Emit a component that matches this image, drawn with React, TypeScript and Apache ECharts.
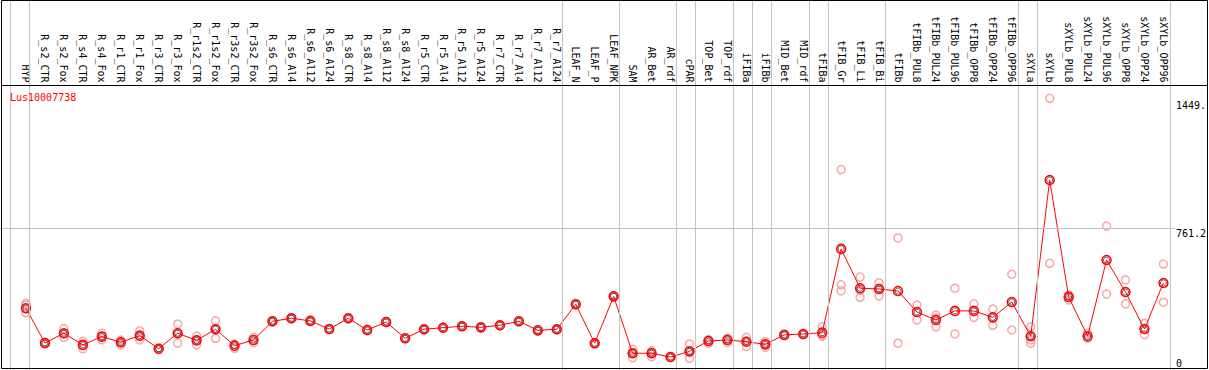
import React, { useEffect, useRef } from 'react';
import * as echarts from 'echarts';

const categories = [
  'HYP', 'R_s2_CTR', 'R_s2_Fox', 'R_s4_CTR', 'R_s4_Fox', 'R_r1_CTR', 'R_r1_Fox', 'R_r3_CTR', 'R_r3_Fox',
  'R_r1s2_CTR', 'R_r1s2_Fox', 'R_r3s2_CTR', 'R_r3s2_Fox', 'R_s6_CTR', 'R_s6_Al4', 'R_s6_Al12', 'R_s6_Al24',
  'R_s8_CTR', 'R_s8_Al4', 'R_s8_Al12', 'R_s8_Al24', 'R_r5_CTR', 'R_r5_Al4', 'R_r5_Al12', 'R_r5_Al24',
  'R_r7_CTR', 'R_r7_Al4', 'R_r7_Al12', 'R_r7_Al24', 'LEAF_N', 'LEAF_P', 'LEAF_NPK', 'SAM', 'AR_Bet', 'AR_rdf',
  'cPAR', 'TOP_Bet', 'TOP_rdf', 'iFIBa', 'iFIBb', 'MID_Bet', 'MID_rdf', 'tFIBa', 'tFIB_Gr', 'tFIB_Li', 'tFIB_Bi',
  'tFIBb', 'tFIBb_PUL8', 'tFIBb_PUL24', 'tFIBb_PUL96', 'tFIBb_OPP8', 'tFIBb_OPP24', 'tFIBb_OPP96', 'sXYLa',
  'sXYLb', 'sXYLb_PUL8', 'sXYLb_PUL24', 'sXYLb_PUL96', 'sXYLb_OPP8', 'sXYLb_OPP24', 'sXYLb_OPP96',
];

const meanValues = [
  338, 154, 206, 144, 188, 158, 193, 124, 206, 168, 227, 140, 170, 269, 285, 271, 228, 285, 223, 265, 179,
  227, 235, 243, 237, 248, 269, 221, 227, 359, 153, 401, 100, 100, 80, 110, 165, 170, 161, 147, 197, 202,
  209, 652, 444, 440, 429, 318, 276, 324, 324, 290, 371, 190, 1017, 398, 190, 593, 424, 228, 472,
];

const replicateValues = [
  [364, 355, 314], [150, 158], [230, 184, 203], [163, 124, 144], [205, 170, 188], [170, 144, 158],
  [219, 170, 190], [120, 128], [255, 154, 207], [191, 144, 170], [271, 179, 230], [147, 126, 146],
  [184, 156], [266, 272], [282, 288], [268, 273], [225, 231], [282, 288], [220, 226], [262, 268],
  [176, 182], [224, 229], [232, 238], [240, 245], [234, 240], [245, 251], [266, 272], [218, 224],
  [224, 229], [356, 362], [150, 155], [398, 404], [121, 76, 102], [113, 82, 104], [78, 82],
  [149, 73, 108], [170, 153, 171], [179, 156, 175], [184, 135, 164], [161, 131, 150], [194, 199],
  [199, 204], [240, 191, 195], [1072, 462, 430], [503, 396, 432], [473, 403, 444], [710, 153],
  [355, 276], [302, 240, 286], [444, 202], [361, 290], [334, 248], [518, 223], [240, 170, 153],
  [1449, 576], [408, 382, 403], [205, 179], [773, 413], [488, 361], [258, 198], [572, 370],
];

// index of the first category of each group (61 = right end)
const groupStarts = [0, 1, 29, 32, 35, 36, 38, 39, 40, 42, 43, 46, 53, 54, 61];

const yMin = 73.2;
const yMax = 1449;
const midValue = 761.1;
const yTickLabels = ['0', '761.2', '1449.'];
const geneName = 'Lus10007738';

export default function App() {
  const ref = useRef<HTMLDivElement>(null);
  useEffect(() => {
    document.body.style.margin = '0';
    const chart = echarts.init(ref.current!, null, { renderer: 'svg' });
    const mono = "'DejaVu Sans Mono', monospace";
    const replicatePoints: number[][] = [];
    replicateValues.forEach((reps, i) => reps.forEach((v) => replicatePoints.push([i, v])));
    const gray = '#c4c4c4';

    chart.setOption({
      animation: false,
      backgroundColor: '#ffffff',
      title: {
        text: geneName,
        left: 10,
        top: 92,
        padding: 0,
        textStyle: { color: '#ff0000', fontSize: 10, fontFamily: mono, fontWeight: 'normal' },
      },
      grid: [
        { left: 10.5, right: 38.5, top: 0, bottom: 0 },
        { left: 16.5, right: 33.5, top: 98.3, bottom: 11.7 },
        { left: 0, right: 33.5, top: 98.3, bottom: 11.7 },
      ],
      xAxis: [
        { gridIndex: 0, type: 'value', min: 0, max: 61, show: false },
        {
          gridIndex: 1,
          type: 'category',
          data: categories,
          position: 'top',
          offset: 12.8,
          boundaryGap: true,
          axisLine: { show: false },
          axisTick: { show: false },
          splitLine: { show: false },
          axisLabel: { interval: 0, rotate: 90, margin: 3, fontFamily: mono, fontSize: 10, color: '#000' },
        },
        { gridIndex: 2, type: 'value', min: 0, max: 1, show: false },
      ],
      yAxis: [
        { gridIndex: 0, type: 'value', min: 0, max: 1, show: false },
        {
          gridIndex: 1,
          type: 'value',
          position: 'right',
          min: yMin,
          max: yMax,
          interval: (yMax - yMin) / 2,
          axisLine: { show: false },
          axisTick: { show: false },
          splitLine: { show: false },
          axisLabel: {
            showMinLabel: true,
            showMaxLabel: true,
            margin: 3,
            fontFamily: mono,
            fontSize: 10,
            color: '#000',
            verticalAlign: 'top',
            lineHeight: 10,
            formatter: (v: number) => {
              const idx = v < (yMin + midValue) / 2 ? 0 : v < (midValue + yMax) / 2 ? 1 : 2;
              return idx === 2 ? `{t|${yTickLabels[idx]}}` : yTickLabels[idx];
            },
            rich: { t: { padding: [4, 0, 0, 0], fontFamily: mono, fontSize: 10, color: '#000' } },
          },
        },
        { gridIndex: 2, type: 'value', min: yMin, max: yMax, show: false },
      ],
      series: [
        {
          type: 'scatter',
          xAxisIndex: 0,
          yAxisIndex: 0,
          data: [[0, 0]],
          symbolSize: 0,
          silent: true,
          markLine: {
            silent: true,
            symbol: ['none', 'none'],
            label: { show: false },
            lineStyle: { color: gray, width: 1, type: 'solid' },
            data: groupStarts.map((g) => ({ xAxis: g })),
          },
        },
        {
          type: 'scatter',
          xAxisIndex: 2,
          yAxisIndex: 2,
          data: [[0, yMin]],
          symbolSize: 0,
          silent: true,
          markLine: {
            silent: true,
            symbol: ['none', 'none'],
            label: { show: false },
            lineStyle: { color: gray, width: 1, type: 'solid' },
            data: [{ yAxis: midValue }],
          },
        },
        {
          type: 'scatter',
          xAxisIndex: 1,
          yAxisIndex: 1,
          data: replicatePoints,
          symbol: 'circle',
          symbolSize: 8,
          clip: false,
          itemStyle: { color: 'rgba(0,0,0,0)', borderColor: '#f39494', borderWidth: 1.5 },
        },
        {
          type: 'line',
          xAxisIndex: 1,
          yAxisIndex: 1,
          data: meanValues,
          symbol: 'circle',
          symbolSize: 9,
          showAllSymbol: true,
          clip: false,
          lineStyle: { color: '#ff0000', width: 1 },
          itemStyle: { color: 'rgba(0,0,0,0)', borderColor: '#ff0000', borderWidth: 1.5 },
        },
        {
          type: 'scatter',
          xAxisIndex: 1,
          yAxisIndex: 1,
          data: meanValues.map((v, i) => [i, v]),
          symbol: 'circle',
          symbolSize: 6,
          clip: false,
          itemStyle: { color: 'rgba(0,0,0,0)', borderColor: '#000000', borderWidth: 0.8 },
        },
      ],
      graphic: [
        {
          type: 'rect',
          z: 100,
          silent: true,
          shape: { x: 1.5, y: 0.5, width: 1206, height: 368 },
          style: { fill: 'none', stroke: '#000', lineWidth: 1 },
        },
        {
          type: 'line',
          z: 100,
          silent: true,
          shape: { x1: 1, y1: 85.5, x2: 1208, y2: 85.5 },
          style: { stroke: '#000', lineWidth: 1 },
        },
      ],
    });
    return () => chart.dispose();
  }, []);
  return (
    <div
      ref={ref}
      style={{ position: 'absolute', left: 0, top: 0, width: 1209, height: 370, background: '#fff' }}
    />
  );
}
